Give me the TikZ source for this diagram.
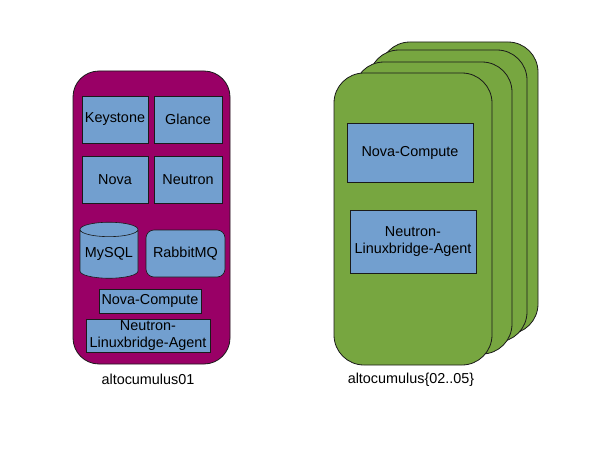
\documentclass[tikz,border=0pt]{standalone}
\usepackage{fontspec}
\setmainfont{Liberation Sans}
\usepackage{tikz}
\usetikzlibrary{shapes.geometric}
\definecolor{HostMagenta}{HTML}{990066}
\definecolor{HostGreen}{HTML}{77A640}
\definecolor{SvcBlue}{HTML}{729FCF}
\definecolor{EdgeDark}{HTML}{1A1A1A}

\begin{document}
\begin{tikzpicture}[x=1pt,y=-1pt,
host/.style={draw=EdgeDark,line width=0.8pt,rounded corners=26pt,minimum width=157pt,minimum height=293pt,inner sep=0pt},
card/.style={draw=EdgeDark,line width=0.8pt,fill=HostGreen,rounded corners=30pt,minimum width=158pt,minimum height=292pt,inner sep=0pt},
svc/.style={draw=EdgeDark,line width=0.6pt,fill=SvcBlue,inner sep=0pt,align=center,font=\fontsize{14.4}{16.5}\selectfont},
lbl/.style={font=\fontsize{14.4}{16.5}\selectfont}
]
\useasboundingbox (0,0) rectangle (595,460);
% controller node
\node[host,fill=HostMagenta] (ctrl) at (151.5,217.5) {};
\node[svc,minimum width=66pt,minimum height=47pt] (keystone) at (115,119.5) {Keystone};
\node[svc,minimum width=68pt,minimum height=47pt] (glance) at (188,119.5) {Glance};
\node[svc,minimum width=66pt,minimum height=47pt] (nova) at (115,179.5) {Nova};
\node[svc,minimum width=68pt,minimum height=47pt] (neutron) at (188,179.5) {Neutron};
\node[svc,cylinder,shape border rotate=90,aspect=0.3,minimum width=58pt,minimum height=56pt] (mysql) at (109,254) {MySQL};
\node[svc,rounded corners=8pt,minimum width=79pt,minimum height=47pt] (rabbit) at (185.5,253.5) {RabbitMQ};
\node[svc,minimum width=102pt,minimum height=24pt] (ctrlcompute) at (150,301) {Nova-Compute};
\node[svc,minimum width=124pt,minimum height=33pt] (ctrlagent) at (148,335.5) {Neutron-\\Linuxbridge-Agent};
\node[lbl] (ctrllabel) at (148,379) {altocumulus01};
% compute nodes
\node[card] (card4) at (459,188) {};
\node[card] (card3) at (448,196) {};
\node[card] (card2) at (433,208) {};
\node[card] (card1) at (413,219) {};
\node[svc,minimum width=126pt,minimum height=59pt] (compute) at (410,152.5) {Nova-Compute};
\node[svc,minimum width=126pt,minimum height=63pt] (agent) at (413,241.5) {Neutron-\\Linuxbridge-Agent};
\node[lbl] (cardlabel) at (411,380) {altocumulus\{02..05\}};
\end{tikzpicture}
\end{document}
